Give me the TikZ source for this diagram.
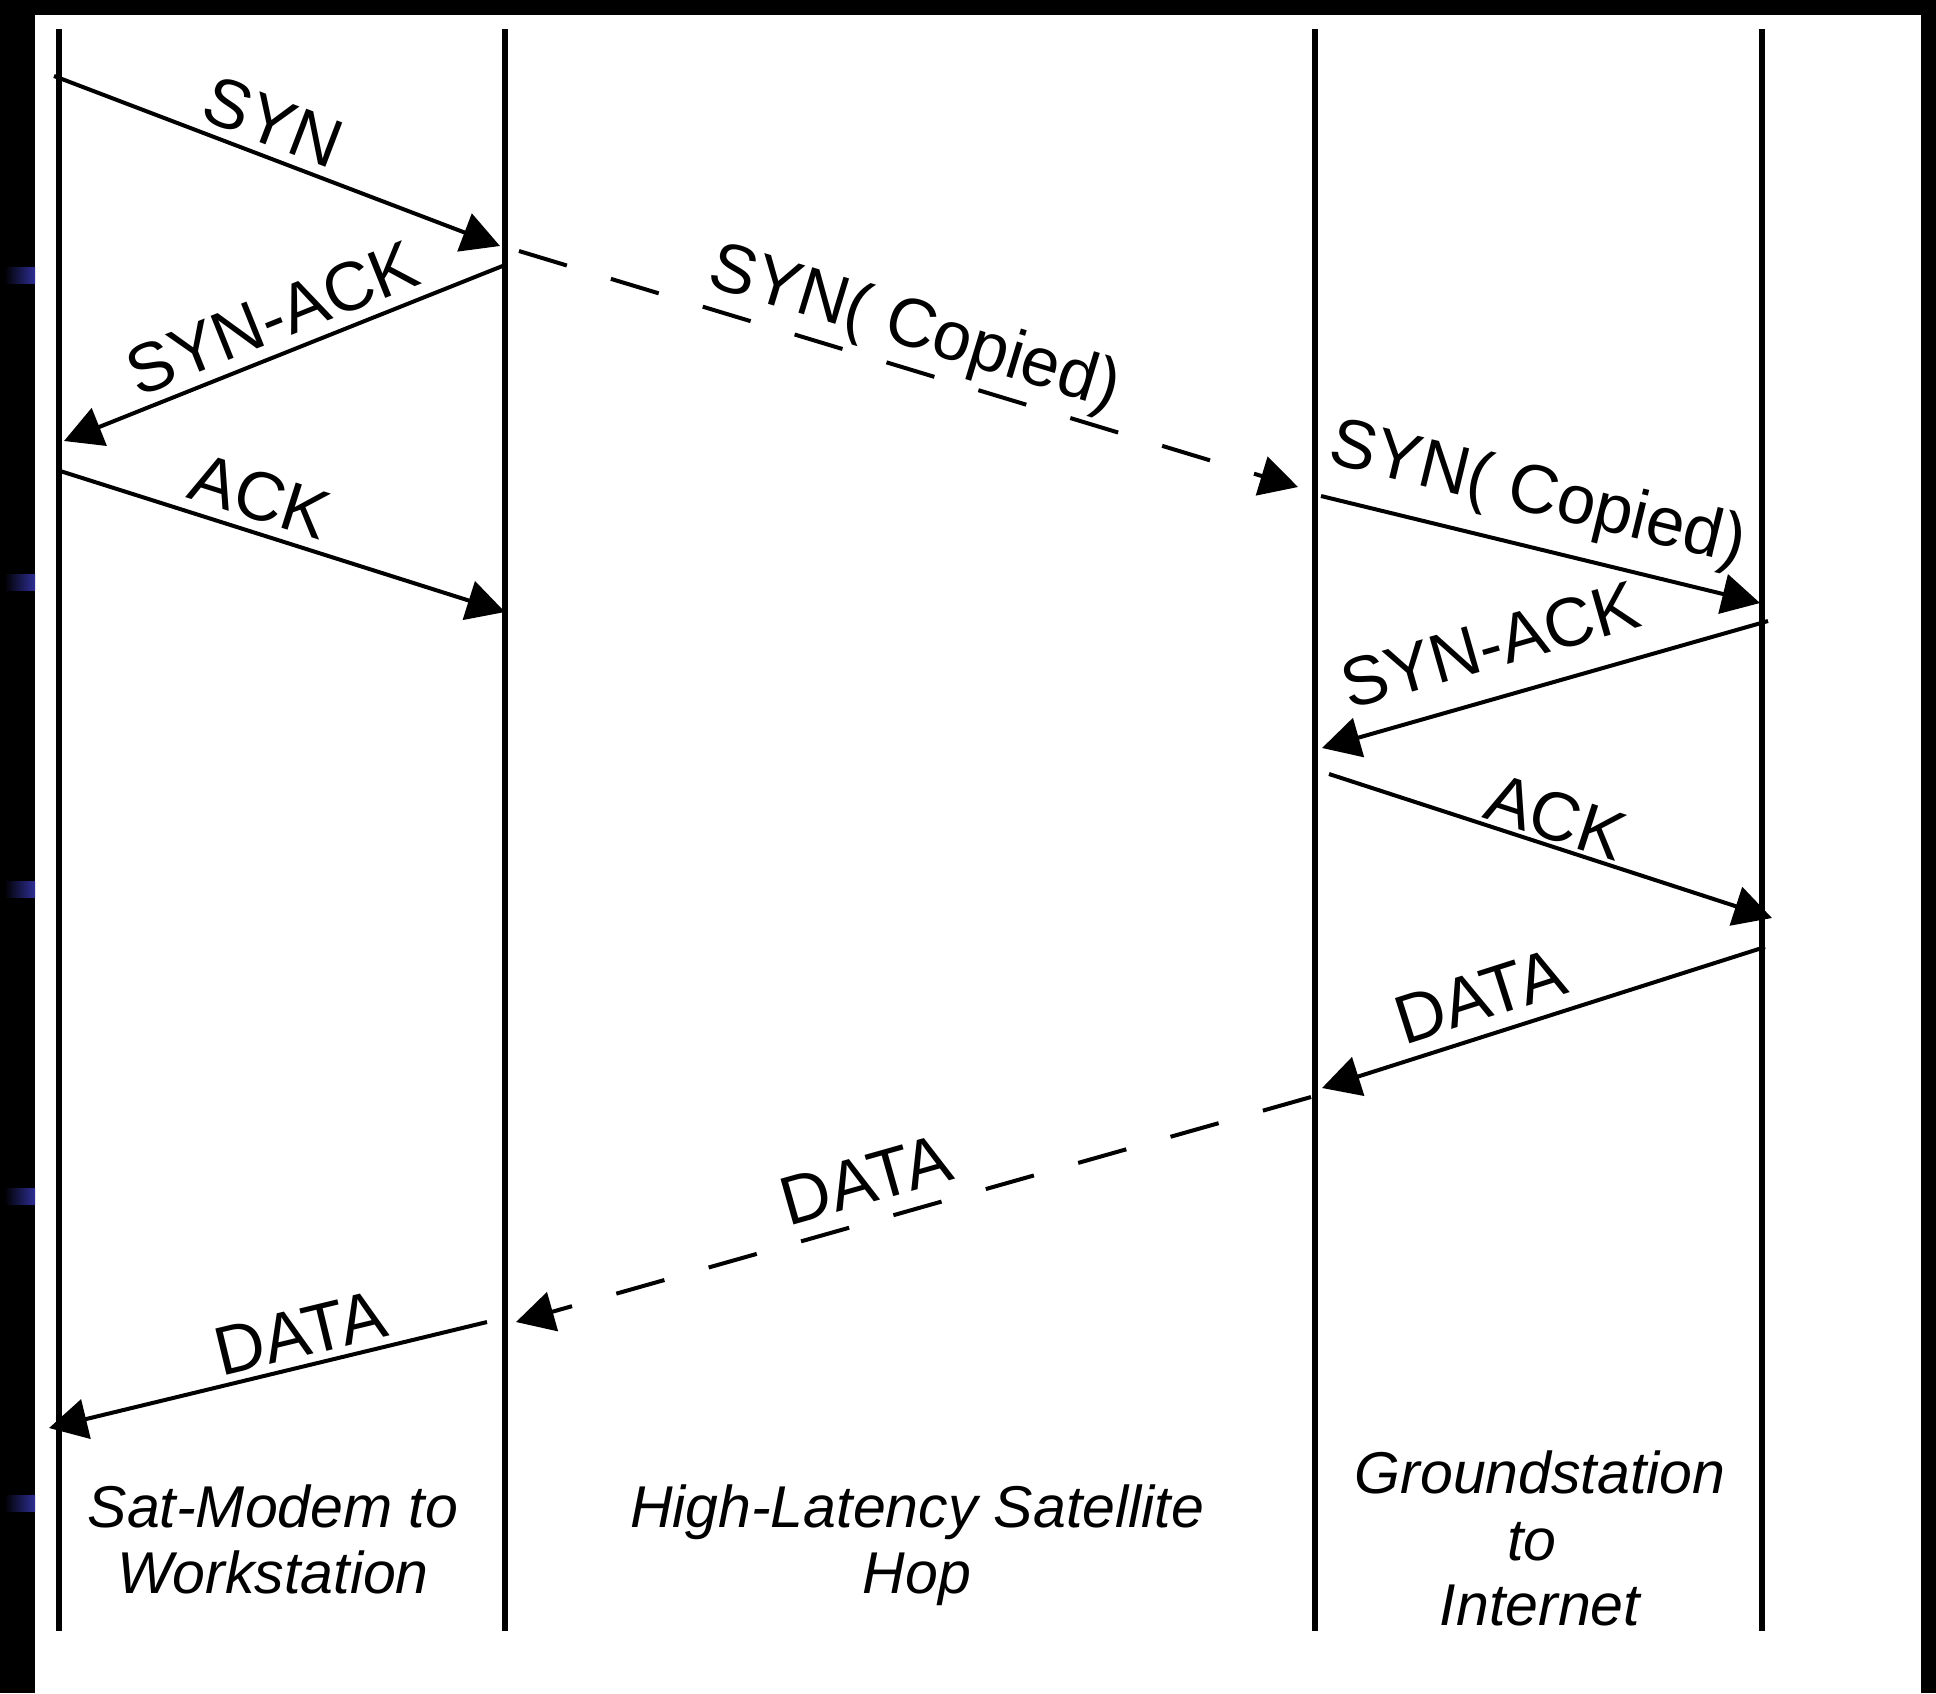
\documentclass[tikz,border=0pt]{standalone}
\usepackage{fontspec}
\setmainfont{Liberation Sans}
\usetikzlibrary{arrows.meta}
\definecolor{slidemark}{RGB}{46,46,150}

\begin{document}
\begin{tikzpicture}[x=0.5pt, y=-0.5pt,
  lifeline/.style={line width=2.7pt},
  msg/.style={line width=2pt, -{Triangle[length=19pt, width=20pt]}},
  hop/.style={msg, dash pattern=on 25pt off 23pt},
  lbl/.style={inner sep=0pt, font=\fontsize{34.5pt}{41pt}\selectfont},
  captiontext/.style={inner sep=0pt, anchor=base, font=\itshape\fontsize{29.5pt}{33pt}\selectfont},
  bulletbar/.style={left color=black, right color=slidemark}]

% page frame: black surround, white drawing area
\fill[black] (0,0) rectangle (1936,1693);
\fill[white] (35,15) rectangle (1921,1693);
\useasboundingbox (0,0) rectangle (1936,1693);

% faint bullet bars on the left edge
\foreach \y in {275,582,889,1196,1503}
  \shade[bulletbar] (4,\y-8) rectangle (35,\y+8);

% four vertical lifelines
\foreach \n/\x in {a/59, b/505, c/1315, d/1762} {
  \coordinate (\n top) at (\x,29);
  \coordinate (\n bot) at (\x,1631);
  \draw[lifeline] (\n top) -- (\n bot);
}

% message end points
\coordinate (m1s) at (54,76);     \coordinate (m1e) at (500,246);
\coordinate (m2s) at (505,265);   \coordinate (m2e) at (64,441);
\coordinate (m3s) at (57,470);    \coordinate (m3e) at (505,612);
\coordinate (h1s) at (519,251);   \coordinate (h1e) at (1298,487);
\coordinate (m4s) at (1321,496);  \coordinate (m4e) at (1760,603);
\coordinate (m5s) at (1768,621);  \coordinate (m5e) at (1322,748);
\coordinate (m6s) at (1329,774);  \coordinate (m6e) at (1772,918);
\coordinate (m7s) at (1765,947);  \coordinate (m7e) at (1322,1088);
\coordinate (h2s) at (1311,1097); \coordinate (h2e) at (516,1322);
\coordinate (m8s) at (487,1322);  \coordinate (m8e) at (49,1428);

% messages
\draw[msg] (m1s) -- (m1e);
\draw[msg] (m2s) -- (m2e);
\draw[msg] (m3s) -- (m3e);
\draw[hop] (h1s) -- (h1e);
\draw[msg] (m4s) -- (m4e);
\draw[msg] (m5s) -- (m5e);
\draw[msg] (m6s) -- (m6e);
\draw[msg] (m7s) -- (m7e);
\draw[hop] (h2s) -- (h2e);
\draw[msg] (m8s) -- (m8e);

% message labels
\node[lbl, rotate=-20.9] (l1) at (273,122)  {SYN};
\node[lbl, rotate=21.8]  (l2) at (272,318)  {SYN-ACK};
\node[lbl, rotate=-17.6] (l3) at (260,496)  {ACK};
\node[lbl, rotate=-16.9] (l4) at (914,330)  {SYN( Copied)};
\node[lbl, rotate=-13.7] (l5) at (1537,496) {SYN( Copied)};
\node[lbl, rotate=15.9]  (l6) at (1490,645) {SYN-ACK};
\node[lbl, rotate=-18]   (l7) at (1556,817) {ACK};
\node[lbl, rotate=17.7]  (l8) at (1480,996) {DATA};
\node[lbl, rotate=15.8]  (l9) at (866,1180) {DATA};
\node[lbl, rotate=13.6]  (l10) at (300,1333) {DATA};

% segment captions
\node[captiontext] (c1a) at (273,1527) {Sat-Modem to};
\node[captiontext] (c1b) at (273,1593) {Workstation};
\node[captiontext] (c2a) at (917,1527) {High-Latency Satellite};
\node[captiontext] (c2b) at (917,1593) {Hop};
\node[captiontext] (c3a) at (1540,1493) {Groundstation};
\node[captiontext] (c3b) at (1532,1560) {to};
\node[captiontext] (c3c) at (1540,1625) {Internet};
\end{tikzpicture}
\end{document}
